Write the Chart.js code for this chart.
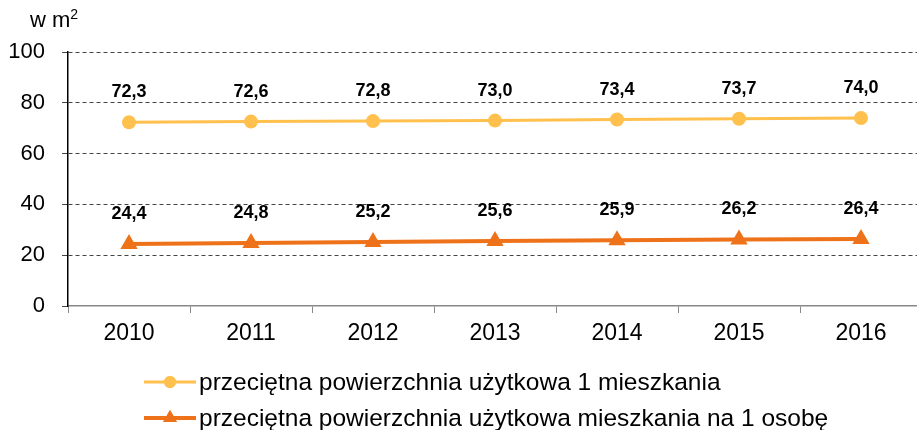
<!DOCTYPE html>
<html>
<head>
<meta charset="utf-8">
<script src="https://cdn.jsdelivr.net/npm/chart.js@4/dist/chart.umd.min.js"></script>
<style>
  html, body { margin: 0; padding: 0; background: #fff; overflow: hidden; }
  #wrap { position: relative; width: 917px; height: 430px; overflow: hidden; }
  #unit { position: absolute; left: 30px; top: 6px; font: 22px "Liberation Sans", Arial, sans-serif; color: #000; }
  #unit sup { font-size: 14px; vertical-align: 8px; }
</style>
</head>
<body>
<div id="wrap">
  <!-- obszar wykresu sięga nieco poza prawą krawędź (margines na znaczniki ~10px) -->
  <canvas id="chart" width="932" height="430"></canvas>
  <div id="unit">w m<sup>2</sup></div>
</div>
<script>
// lata i wartości serii
const years = ['2010', '2011', '2012', '2013', '2014', '2015', '2016'];
const perDwelling = [72.3, 72.6, 72.8, 73.0, 73.4, 73.7, 74.0];
const perPerson = [24.4, 24.8, 25.2, 25.6, 25.9, 26.2, 26.4];
const seriesNames = [
    'przeciętna powierzchnia użytkowa 1 mieszkania',
    'przeciętna powierzchnia użytkowa mieszkania na 1 osobę'
];
const yTicks = [0, 20, 40, 60, 80, 100];

const YELLOW = '#FFC04D';
const ORANGE = '#EE7219';
const FONT = '"Liberation Sans", Arial, sans-serif';

// etykiety z wartościami nad punktami
const valueLabels = {
    id: 'valueLabels',
    afterDatasetsDraw(chart) {
        const ctx = chart.ctx;
        ctx.save();
        ctx.font = 'bold 18px ' + FONT;
        ctx.fillStyle = '#000';
        ctx.textAlign = 'center';
        ctx.textBaseline = 'middle';
        chart.data.datasets.forEach((ds, i) => {
            chart.getDatasetMeta(i).data.forEach((pt, j) => {
                const txt = ds.data[j].toFixed(1).replace('.', ',');
                ctx.fillText(txt, pt.x, pt.y - 30);
            });
        });
        ctx.restore();
    }
};

// legenda pod wykresem: linia z markerem i opis
const lineLegend = {
    id: 'lineLegend',
    afterDraw(chart) {
        const ctx = chart.ctx;
        ctx.save();
        ctx.font = '24.5px ' + FONT;
        ctx.textBaseline = 'middle';
        const rows = [382, 418];
        const markerSize = [6, 8];
        chart.data.datasets.forEach((ds, i) => {
            const y = rows[i];
            ctx.strokeStyle = ds.borderColor;
            ctx.lineWidth = ds.borderWidth;
            ctx.beginPath();
            ctx.moveTo(144, y);
            ctx.lineTo(196, y);
            ctx.stroke();
            ctx.fillStyle = ds.backgroundColor;
            Chart.helpers.drawPoint(ctx, {
                pointStyle: ds.pointStyle,
                radius: markerSize[i],
                borderWidth: 0
            }, 170, y);
            ctx.fill();
            ctx.fillStyle = '#000';
            ctx.fillText(seriesNames[i], 199, y + 1);
        });
        ctx.restore();
    }
};

new Chart(document.getElementById('chart'), {
    type: 'line',
    data: {
        labels: years,
        datasets: [
            {
                label: seriesNames[0],
                data: perDwelling,
                borderColor: YELLOW,
                backgroundColor: YELLOW,
                borderWidth: 3,
                pointStyle: 'circle',
                pointRadius: 7,
                pointBorderWidth: 0
            },
            {
                label: seriesNames[1],
                data: perPerson,
                borderColor: ORANGE,
                backgroundColor: ORANGE,
                borderWidth: 4,
                pointStyle: 'triangle',
                pointRadius: 10,
                pointBorderWidth: 0
            }
        ]
    },
    options: {
        responsive: false,
        animation: false,
        events: [],
        layout: { padding: { top: 52, right: 0, bottom: 76, left: 0 } },
        plugins: {
            legend: { display: false },
            tooltip: { enabled: false }
        },
        scales: {
            x: {
                offset: true,
                afterFit(scale) {
                    scale.height = 48;
                    scale.paddingLeft = 0;
                    scale.paddingRight = 0;
                },
                grid: {
                    offset: true,
                    drawOnChartArea: false,
                    drawTicks: true,
                    tickLength: 7,
                    color: '#888'
                },
                border: { color: '#888', width: 1.5 },
                ticks: {
                    font: { family: FONT, size: 23 },
                    color: '#000',
                    padding: 7
                }
            },
            y: {
                min: 0,
                max: 100,
                afterFit(scale) { scale.width = 68; },
                afterBuildTicks(scale) { scale.ticks = yTicks.map(v => ({ value: v })); },
                grid: {
                    color: (c) => c.tick && c.tick.value === 0 ? 'rgba(0,0,0,0)' : '#444',
                    lineWidth: 1,
                    tickLength: 6,
                    tickColor: '#444'
                },
                border: { color: '#000', width: 1.5, dash: [4, 3] },
                ticks: {
                    font: { family: FONT, size: 22 },
                    color: '#000',
                    padding: 17
                }
            }
        }
    },
    plugins: [valueLabels, lineLegend]
});
</script>
</body>
</html>
